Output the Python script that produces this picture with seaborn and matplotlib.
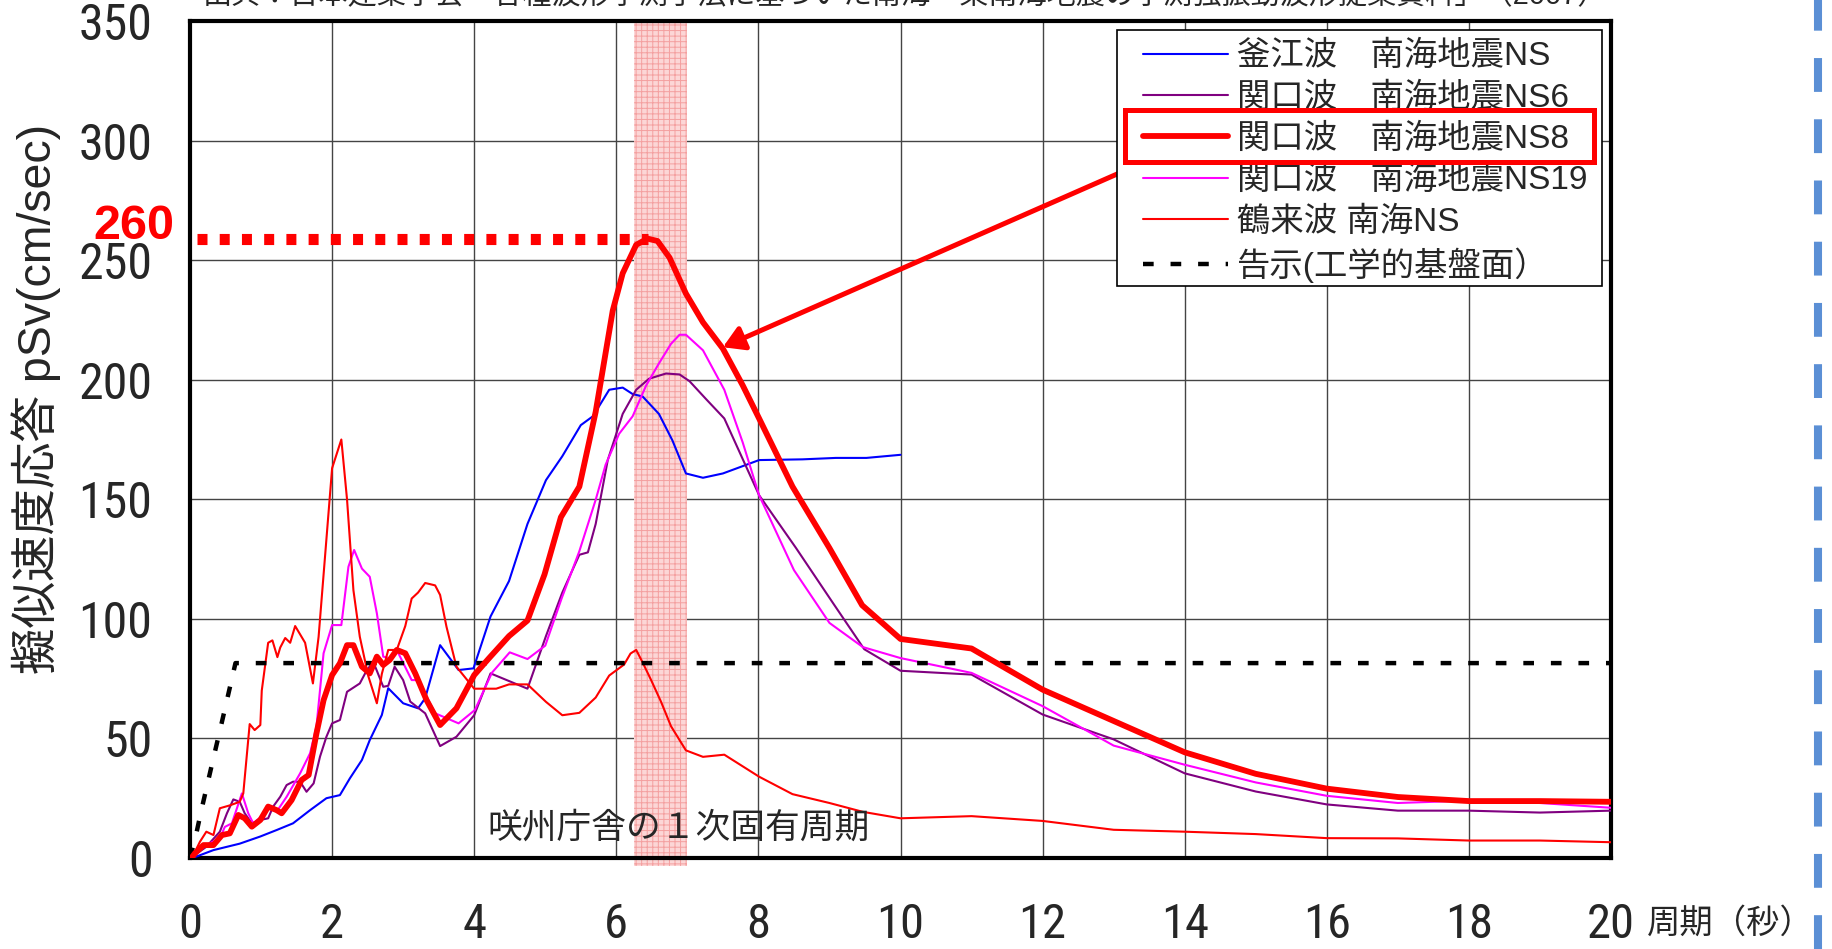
import numpy as np
import pandas as pd
import matplotlib
matplotlib.use('Agg')
import matplotlib.pyplot as plt
import seaborn as sns
from matplotlib.patches import Rectangle
from matplotlib.lines import Line2D

# -----------------------------
# Data (period [s] -> pSv [cm/s])
# -----------------------------
kamae_T = [0.02, 0.09, 0.33, 0.70, 0.99, 1.22, 1.45, 1.69, 1.92, 2.11, 2.25, 2.42, 2.53, 2.70,
           2.79, 3.0, 3.21, 3.31, 3.52, 3.78, 3.99, 4.23, 4.49, 4.75, 5.01, 5.24, 5.5, 5.67,
           5.9, 6.09, 6.23, 6.37, 6.6, 6.79, 6.98, 7.22, 7.5, 8.01, 8.62, 9.09, 9.52, 10.0]
kamae_v = [0, 0.6, 3.3, 6, 9, 11.7, 14.5, 20, 25, 26.3, 33.3, 41, 49.3, 59.8,
           71, 64.7, 62.6, 66.8, 89, 78.6, 79.3, 101, 115.8, 139.7, 158, 168, 181, 184.7,
           195.8, 196.7, 194, 193, 185.7, 174.6, 160.8, 159, 160.8, 166.4, 166.7, 167.3, 167.3, 168.6]

ns6_T = [0.02, 0.07, 0.23, 0.42, 0.52, 0.61, 0.70, 0.77, 0.87, 0.99, 1.10, 1.17, 1.27, 1.36,
         1.45, 1.55, 1.64, 1.74, 1.83, 1.92, 2.0, 2.11, 2.21, 2.39, 2.49, 2.58, 2.72, 2.79,
         2.88, 3.0, 3.10, 3.31, 3.52, 3.75, 4.0, 4.23, 4.75, 5.01, 5.24, 5.48, 5.6, 5.71,
         5.88, 6.09, 6.28, 6.46, 6.7, 6.89, 7.03, 7.26, 7.52, 8.01, 8.53, 9.05, 9.49, 10.0,
         11, 12, 13, 14, 15, 16, 17, 18, 19, 20]
ns6_v = [0, 1.3, 4.7, 11, 18.7, 24.5, 23.5, 18.7, 14.5, 15.9, 16.6, 21.5, 25.6, 30.5,
         31.9, 31.9, 27.7, 31.2, 42.4, 50.7, 56.3, 57.7, 69.5, 73, 78.6, 82, 71.6, 72,
         80, 74.4, 65.4, 60.5, 46.8, 50.7, 59.7, 77.2, 70.8, 92.8, 111, 126.8, 127.8, 139.7,
         166.4, 185.7, 195.8, 200.4, 202.6, 202.2, 199.4, 192, 183.8, 151.7, 129.6, 106.6, 87.3, 78.3,
         76.7, 60, 49.6, 35.4, 27.8, 22.4, 19.8, 19.8, 19, 19.8]

ns8_T = [0.02, 0.07, 0.19, 0.33, 0.45, 0.56, 0.68, 0.77, 0.87, 0.99, 1.10, 1.22, 1.29, 1.43,
         1.57, 1.67, 1.78, 1.88, 2.0, 2.11, 2.21, 2.30, 2.42, 2.53, 2.63, 2.72, 2.81, 2.91,
         3.03, 3.17, 3.33, 3.52, 3.75, 4.0, 4.21, 4.49, 4.75, 4.99, 5.22, 5.48, 5.71, 5.95,
         6.09, 6.28, 6.44, 6.58, 6.75, 6.98, 7.22, 7.5, 7.78, 8.01, 8.48, 9.0, 9.46, 10.0,
         11, 12, 13, 14, 15, 16, 17, 18, 19, 20]
ns8_v = [0, 2, 5.4, 5.4, 9.6, 10.3, 18, 16.6, 13.1, 15.9, 21.5, 20, 18.7, 24.2,
         32.6, 34.7, 52.1, 66, 76.5, 81.4, 89, 89, 80, 77.2, 84.2, 80.7, 82.8, 87,
         85.6, 77.2, 66, 55.6, 62.6, 76.5, 83.6, 92.8, 99.3, 118.6, 142.5, 155.3, 186.6, 228.9,
         244.5, 256.4, 259, 258, 251, 236, 224, 213, 197.6, 183.8, 155.3, 129.6, 105.7, 91.6,
         87.6, 70.4, 57.3, 44.2, 35.2, 29, 25.5, 23.8, 23.8, 23.5]

ns19_T = [0.02, 0.09, 0.23, 0.42, 0.49, 0.59, 0.73, 0.82, 0.89, 1.03, 1.10, 1.22, 1.36, 1.55,
          1.69, 1.78, 1.88, 2.0, 2.13, 2.23, 2.31, 2.42, 2.53, 2.63, 2.72, 2.81, 2.91, 3.12,
          3.21, 3.45, 3.57, 3.78, 4.01, 4.25, 4.5, 4.75, 5.0, 5.23, 5.48, 5.71, 5.85, 6.04,
          6.23, 6.42, 6.6, 6.77, 6.89, 6.98, 7.22, 7.52, 7.78, 8.01, 8.5, 9.0, 9.47, 10,
          11, 12, 13, 14, 15, 16, 17, 18, 19, 20]
ns19_v = [0, 2, 5.4, 8.2, 13, 14.5, 27, 18.7, 14.5, 18, 21.5, 19.4, 25.6, 35.4,
          43.8, 55, 85.6, 97.4, 97.4, 121.8, 128.8, 121, 117.6, 102.3, 84.2, 83.5, 87, 74.4,
          74.4, 60.5, 59, 56.3, 61.9, 77.5, 86, 83.2, 88.8, 108.5, 128.3, 149.8, 164.5, 177.4,
          184.7, 197.6, 206.8, 215, 218.8, 218.8, 212.3, 195.8, 173.7, 151.7, 120.4, 98.3, 88.2, 83.6,
          77.4, 63.5, 47, 39, 31.6, 26, 23, 24, 23, 21]

tsurugi_T = [0.02, 0.07, 0.14, 0.23, 0.33, 0.42, 0.56, 0.70, 0.75, 0.84, 0.91, 0.99, 1.01, 1.10,
             1.16, 1.23, 1.27, 1.34, 1.41, 1.48, 1.62, 1.73, 1.81, 2.0, 2.13, 2.21, 2.30, 2.39,
             2.51, 2.63, 2.70, 2.79, 2.91, 3.03, 3.12, 3.21, 3.31, 3.45, 3.52, 3.61, 3.75, 4.0,
             4.31, 4.49, 4.75, 5.01, 5.24, 5.48, 5.71, 5.9, 6.11, 6.2, 6.28, 6.37, 6.49, 6.63,
             6.77, 6.98, 7.22, 7.52, 8.01, 8.48, 9.0, 9.47, 10, 11, 12, 13, 14, 15, 16, 17, 18, 19, 20]
tsurugi_v = [0, 2.6, 6.8, 11, 9.6, 20.8, 22, 23.5, 27, 56, 53.5, 55.6, 70, 90,
             91, 84, 88, 92, 90, 97, 90, 73, 92.5, 163, 175, 150, 112, 92.5,
             76, 64.7, 77, 87, 87, 97, 108.5, 111, 115, 114, 110, 96.7, 80, 70.8,
             70.8, 72.6, 72.6, 65.3, 59.7, 60.7, 67.1, 76.3, 80.9, 85.5, 87, 81.8, 74.4, 65.3,
             55.1, 45, 42.3, 43.2, 34, 26.7, 23, 19.3, 16.6, 17.5, 15.5, 11.8, 11, 10, 8.3, 8.2, 7.3, 7.3, 6.6]

kokuji_T = [0.0, 0.08, 0.16, 0.30, 0.45, 0.64, 20.0]
kokuji_v = [0, 9, 20, 38, 57, 81.5, 81.5]

peak_T = [0.1, 6.45]
peak_v = [259, 259]
band_T = [6.25, 7.0]

x_ticks = list(range(0, 21, 2))
y_ticks = list(range(0, 351, 50))

series = [
    ("釜江波\u3000南海地震NS", kamae_T, kamae_v, "#0000ff", 1.5, 3),
    ("関口波\u3000南海地震NS6", ns6_T, ns6_v, "#800080", 1.5, 3),
    ("関口波\u3000南海地震NS8", ns8_T, ns8_v, "#ff0000", 4.2, 5),
    ("関口波\u3000南海地震NS19", ns19_T, ns19_v, "#ff00ff", 1.5, 3),
    ("鶴来波 南海NS", tsurugi_T, tsurugi_v, "#ff0000", 1.5, 3),
]

# -----------------------------
# Style
# -----------------------------
sns.set_style("white")
JP = ['Liberation Sans', 'Noto Sans CJK JP', 'DejaVu Sans']
NARROW = ['Roboto Condensed', 'Liberation Sans Narrow', 'Liberation Sans', 'DejaVu Sans']
plt.rcParams['font.family'] = JP
plt.rcParams['hatch.linewidth'] = 0.7

W, H = 1832, 949
fig = plt.figure(figsize=(W / 100, H / 100), dpi=100)
ax = fig.add_axes([190 / W, 1 - 858 / H, 1421 / W, 837 / H])

# shaded first natural period band
ax.add_patch(Rectangle((band_T[0], -3.5), band_T[1] - band_T[0], 354, facecolor='#fcd6d6',
                       edgecolor='#f4a0a0', hatch='+++', lw=0, zorder=1, clip_on=False))

for name, T, v, c, lw, z in series:
    df = pd.DataFrame({'T': T, 'v': v})
    sns.lineplot(data=df, x='T', y='v', ax=ax, color=c, lw=lw, label=name,
                 estimator=None, sort=False, zorder=z)

df_k = pd.DataFrame({'T': kokuji_T, 'v': kokuji_v})
sns.lineplot(data=df_k, x='T', y='v', ax=ax, color='black', lw=3.2, label='告示(工学的基盤面）',
             estimator=None, sort=False, linestyle=(0, (2.4, 3.8)), dash_capstyle='butt', zorder=3)

# 260 peak marker line
ax.plot(peak_T, peak_v, color='red', lw=8, linestyle=(0, (0.9, 1.1)),
        dash_capstyle='butt', zorder=4, label='_nolegend_')
ax.text(-0.22, 264, '260', color='red', fontsize=35, fontweight='bold', ha='right',
        va='center', family=['Liberation Sans', 'DejaVu Sans'], clip_on=False)

ax.text(4.19, 12.5, '咲州庁舎の１次固有周期', fontsize=25, ha='left', va='center',
        family=JP, zorder=6)

# -----------------------------
# Axes
# -----------------------------
ax.set_xlim(0, 20)
ax.set_ylim(0, 350)
ax.set_xticks(x_ticks)
ax.set_yticks(y_ticks)
ax.grid(True, color='#444444', lw=1.0)
ax.set_axisbelow(True)
for s in ax.spines.values():
    s.set_color('black')
    s.set_linewidth(3)
ax.tick_params(axis='both', direction='in', length=12, width=3, color='black', labelsize=36)
ax.tick_params(axis='x', pad=32, labelsize=35)
ax.tick_params(axis='y', pad=27)
for lab in ax.get_xticklabels() + ax.get_yticklabels():
    lab.set_family(NARROW)
ax.set_xlabel('')
ax.set_ylabel('擬似速度応答 pSv(cm/sec)', fontsize=33.5, family=JP)
ax.yaxis.set_label_coords(-0.0905, 0.549)

fig.text(1647 / W, 1 - 924 / H, '周期（秒）', fontsize=24, ha='left', va='center', family=JP)

# legend: white box drawn separately so the padding matches the original
ax.add_patch(Rectangle((1117 / W, 1 - 286 / H), 485 / W, 256 / H, transform=fig.transFigure,
                       facecolor='white', edgecolor='black', lw=1.2, zorder=9, clip_on=False))
handles, labels = ax.get_legend_handles_labels()
leg = ax.legend(handles, labels, loc='upper left', bbox_to_anchor=(1143 / W, 1 - 41 / H),
                bbox_transform=fig.transFigure, borderaxespad=0, prop={'family': JP, 'size': 24},
                frameon=False, handlelength=2.55, handletextpad=0.27, labelspacing=0.3,
                borderpad=0)
leg.set_zorder(10)

# highlight box around NS8 legend entry + arrow to the curve
fig.add_artist(Rectangle((1125 / W, 1 - 162 / H), 469 / W, 52 / H, transform=fig.transFigure,
                         fill=False, edgecolor='red', lw=3.6, zorder=20))
ax.annotate('', xy=(7.5, 213.6), xytext=(13.27, 288.9),
            arrowprops=dict(arrowstyle='-|>,head_length=0.5,head_width=0.3', color='red',
                            lw=3.6, mutation_scale=25, shrinkA=0, shrinkB=0), zorder=8)

# clipped source line at the very top
fig.text(0.494, 1 - 9 / H, '出典：日本建築学会「各種波形予測手法に基づいた南海・東南海地震の予測強振動波形提案資料」（2007）',
         fontsize=21, ha='center', va='bottom', family=JP)

# dashed blue divider on the right edge
fig.add_artist(Line2D([0.9925, 0.9925], [0, 1], transform=fig.transFigure, color='#5b8fd5',
                      lw=5.8, linestyle=(0, (4.2, 3.4)), dash_capstyle='butt'))

fig.savefig('out.png', dpi=100)
